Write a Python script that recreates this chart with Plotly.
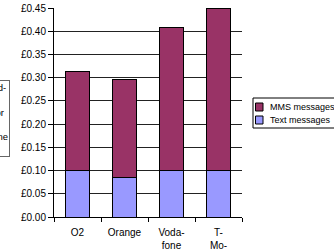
import plotly.graph_objects as go

categories = ["O2", "Orange", "Voda-<br>fone", "T-<br>Mo-<br>bile"]
text_msgs = [0.101, 0.084, 0.101, 0.100]
mms_msgs = [0.213, 0.213, 0.306, 0.350]
y_ticks = [0.0, 0.05, 0.10, 0.15, 0.20, 0.25, 0.30, 0.35, 0.40, 0.45]
y_tick_labels = ["£%.2f" % v for v in y_ticks]
series_names = ["MMS messages", "Text messages"]
series_colors = ["#993366", "#9999FF"]

FONT = "Liberation Sans"

# plot area in pixels
L, R, T, B = 54, 242, 8, 217
def px(x):
    return (x - L) / (R - L)
def py(y):
    return (B - y) / (B - T)

fig = go.Figure()
fig.add_trace(go.Bar(x=categories, y=text_msgs, name=series_names[1],
                     marker=dict(color=series_colors[1], line=dict(color="#000000", width=1))))
fig.add_trace(go.Bar(x=categories, y=mms_msgs, name=series_names[0],
                     marker=dict(color=series_colors[0], line=dict(color="#000000", width=1))))

shapes = []
annotations = []
# legend box (drawn by hand to match the compact layout)
shapes.append(dict(type="rect", xref="paper", yref="paper",
                   x0=px(253), x1=px(345), y0=py(128), y1=py(98),
                   line=dict(color="#000000", width=1), fillcolor="white", layer="above"))
for i, (nm, col) in enumerate(zip(series_names, series_colors)):
    yc = 107 + i * 13
    shapes.append(dict(type="rect", xref="paper", yref="paper",
                       x0=px(255.5), x1=px(263), y0=py(yc + 4), y1=py(yc - 4),
                       line=dict(color="#000000", width=1), fillcolor=col, layer="above"))
    annotations.append(dict(xref="paper", yref="paper", x=px(268), y=py(yc),
                            xanchor="left", yanchor="middle", showarrow=False,
                            text=nm, font=dict(size=9)))

annotations.append(dict(xref="paper", yref="paper", x=px(10), y=py(118),
                        xanchor="right", yanchor="middle", showarrow=False,
                        text="Price of stand-<br>ard<br>messages for<br>users of<br>a mobile phone<br>in the UK",
                        align="center", bordercolor="#666666", borderwidth=1,
                        borderpad=1, bgcolor="white", font=dict(size=9.5)))

fig.update_layout(
    barmode="stack",
    bargap=0.49,
    width=334, height=251,
    margin=dict(l=L, r=334 - R, t=T, b=251 - B, autoexpand=False),
    paper_bgcolor="white", plot_bgcolor="white",
    font=dict(family=FONT, size=10, color="#000000"),
    showlegend=False,
    hovermode=False,
    xaxis=dict(showline=True, linecolor="#000000", linewidth=1,
               ticks="outside", ticklen=4, tickcolor="#000000",
               tickson="boundaries", showgrid=False, automargin=False,
               ticklabelstandoff=6, tickfont=dict(size=10)),
    yaxis=dict(range=[0, 0.45], tickvals=y_ticks, ticktext=y_tick_labels,
               showline=True, linecolor="#000000", linewidth=1,
               ticks="outside", ticklen=5, tickcolor="#000000",
               showgrid=True, gridcolor="#222222", gridwidth=1,
               zeroline=False, automargin=False, tickfont=dict(size=10)),
    shapes=shapes,
    annotations=annotations,
)

fig.write_html("out.html", config={"displayModeBar": False, "staticPlot": True},
               post_script="document.body.style.margin='0';")
